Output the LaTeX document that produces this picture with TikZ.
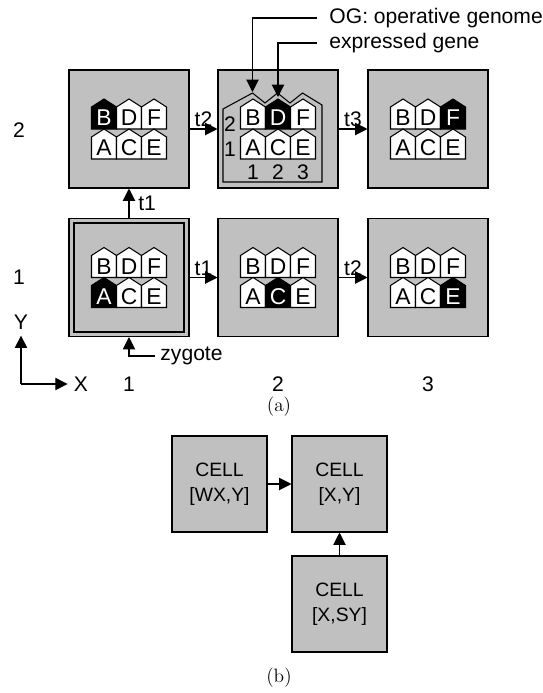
\documentclass[tikz,border=0pt]{standalone}
\usepackage{fontspec}
\newfontfamily\arial{Liberation Sans}
\usepackage{ifthen}
\usetikzlibrary{arrows.meta}

\definecolor{cellgray}{RGB}{192,192,192}

\tikzset{
	cellbox/.style={draw, fill=cellgray, minimum width=2.4cm, minimum height=2.36cm, inner sep=0pt},
	cellb/.style={draw, fill=cellgray, minimum width=1.9cm, minimum height=1.92cm, inner sep=0pt, align=center, font=\arial\fontsize{11}{14}\selectfont},
	lbl/.style={font=\arial\fontsize{12}{13}\selectfont},
	genetext/.style={font=\arial\fontsize{13}{13}\selectfont, inner sep=0pt},
	captxt/.style={font=\fontsize{11}{13}\selectfont},
	arr/.style={-{Triangle[length=7pt,width=7pt]}},
}

% six genes of a cell, #2 is the expressed one
\newcommand{\genome}[2]{%
	\begin{scope}[shift={(#1)}]
		\foreach \g/\dx/\dy in {B/-25/-30,D/0/-30,F/25/-30,A/-25/0,C/0/0,E/25/0}{
			\ifthenelse{\equal{\g}{#2}}{\def\gfill{black}\def\gtext{white}}{\def\gfill{white}\def\gtext{black}}
			\draw[fill=\gfill] (\dx,\dy) -- ++(12.5,8) -- ++(0,22) -- ++(-25,0) -- ++(0,-22) -- cycle;
			\node[genetext,text=\gtext] (#1-\g) at (\dx,\dy+19) {\g};
		}
	\end{scope}}

\begin{document}
\begin{tikzpicture}[x=0.02cm,y=-0.02cm,line width=0.6pt]
		\useasboundingbox (0,0) rectangle (543,693);
		% (a) the cells
		\node[cellbox] (c12) at (129,129) {};
		\node[cellbox] (c22) at (278,129) {};
		\node[cellbox] (c32) at (428,129) {};
		\node[cellbox] (c11) at (129,277.5) {};
		\node[cellbox] (c21) at (278,277.5) {};
		\node[cellbox] (c31) at (428,277.5) {};
		\draw (74,223) rectangle (184,332);
	
		\genome{c12}{B}
		\genome{c22}{D}
		\genome{c32}{F}
		\genome{c11}{A}
		\genome{c21}{C}
		\genome{c31}{E}
	
		% operative genome outline
		\draw (223,182) -- (223,109) -- (252.5,93) -- (265,103) -- (277.5,93) -- (290,103) -- (302.5,93) -- (322,105) -- (322,182) -- cycle;
		\node[lbl] (og2) at (230,124) {2};
		\node[lbl] (og1) at (230,149) {1};
		\node[lbl] (oga) at (253,172) {1};
		\node[lbl] (ogb) at (278,172) {2};
		\node[lbl] (ogc) at (303,172) {3};
	
		% transitions
		\draw[arr] (c11) -- (c12) node[midway,right=4pt,lbl,inner sep=1pt]{t1};
		\draw[arr] (c12) -- (c22) node[midway,above,lbl,inner sep=1pt]{t2};
		\draw[arr] (c22) -- (c32) node[midway,above,lbl,inner sep=1pt]{t3};
		\draw[arr] (c11) -- (c21) node[midway,above,lbl,inner sep=1pt]{t1};
		\draw[arr] (c21) -- (c31) node[midway,above,lbl,inner sep=1pt]{t2};
	
		% annotations
		\node[lbl,anchor=west,inner xsep=6.8pt] (oglbl) at (317,18) {OG: operative genome};
		\node[lbl,anchor=west,inner xsep=6.8pt] (exlbl) at (317,43) {expressed gene};
		\coordinate (ogtip) at (252.5,92);
		\coordinate (extip) at (278,97);
		\draw[arr] (oglbl.west) -| (ogtip);
		\draw[arr] (exlbl.west) -| (extip);
		\node[lbl,anchor=west,inner xsep=2.8pt] (zyglbl) at (155,356) {zygote};
		\draw[arr] (zyglbl.west) -| (c11.south);
	
		% axes and indices
		\coordinate (origin) at (21,384);
		\node[lbl] (xlbl) at (81,384) {X};
		\node[lbl] (ylbl) at (21,322) {Y};
		\draw[arr] (origin) -- (xlbl);
		\draw[arr] (origin) -- (ylbl);
		\node[lbl] (col1) at (129,384) {1};
		\node[lbl] (col2) at (278,384) {2};
		\node[lbl] (col3) at (428,384) {3};
		\node[lbl] (row2) at (19,130) {2};
		\node[lbl] (row1) at (19,277) {1};
		\node[captxt] (capa) at (279,407) {(a)};
	
		% (b) neighbourhood
		\node[cellb] (wxy) at (219.5,484) {CELL\\{[WX,Y]}};
		\node[cellb] (xy) at (339.5,484) {CELL\\{[X,Y]}};
		\node[cellb] (xsy) at (339.5,604) {CELL\\{[X,SY]}};
		\draw[arr] (wxy) -- (xy);
		\draw[arr] (xsy) -- (xy);
		\node[captxt] (capb) at (279,678) {(b)};
	
	\end{tikzpicture}
\end{document}
